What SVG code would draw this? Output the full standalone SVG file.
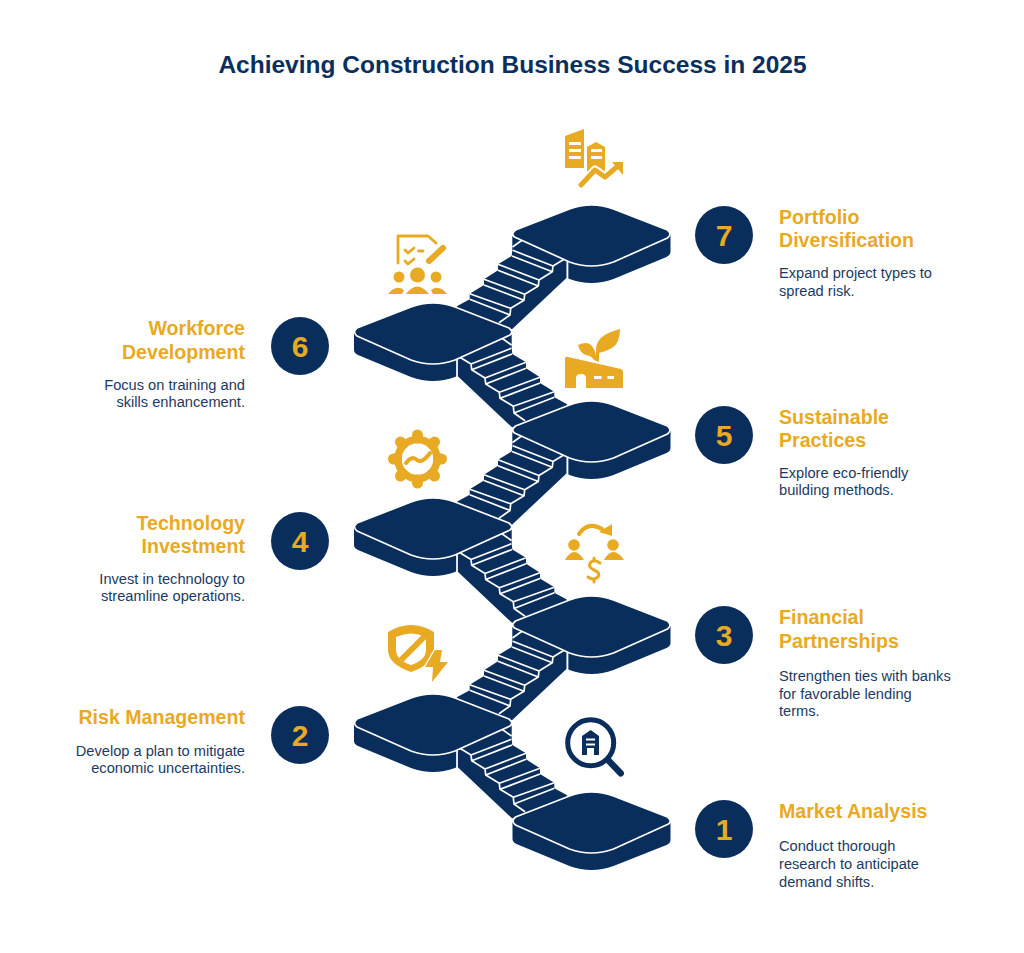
<svg xmlns="http://www.w3.org/2000/svg" width="1024" height="953" viewBox="0 0 1024 953">
<style>
text{font-family:"Liberation Sans",Arial,sans-serif}
.title{font-size:24.5px;font-weight:700;fill:#0b2f5c}
.head{font-size:19.600px;font-weight:700;fill:#e8a923}
.body{font-size:14.650px;fill:#1b3a63}
.num{font-size:30px;font-weight:700;fill:#e8a923;text-anchor:middle}
.end{text-anchor:end}
.navy{fill:#0a2e5c}
.gold{fill:#e8a923}
.wl{fill:none;stroke:#fff;stroke-width:1.700;stroke-linejoin:round}
.top{fill:#0a2e5c;stroke:#fff;stroke-width:1.700;stroke-linejoin:round}
.gl{fill:none;stroke:#e8a923;stroke-linecap:round;stroke-linejoin:round}
.circ{fill:#0a2e5c}
</style>
<defs>
<g id="flight">
<path class="navy" d="M457.3 746.700L511.700 725V739.300L512.300 745L526 753.300V759.300L540 768.300V774L554.300 782.700V788.300L566.700 795L575 810L512 818.300L457.300 766.700Z"/>
<path class="wl" d="M458.300 747.300L471 755L471.700 760.700L485 769L485.700 775L499.300 783.300L500 789.300L513.300 797.300L514 804L525 811.700M471 755L511.300 739.300M471.700 760.700L512 745M485 769L526 753.300M485.700 775L526 759.300M499.300 783.300L540 768.300M500 789.300L540 774M513.300 797.300L554.300 782.700M514 804L554.300 788.300M501.700 729L511.500 736"/>
</g>
<path id="face" class="top" d="M-76-5L-22-26Q0-34 22-26L76-5Q81-1 77 2L22 27Q0 35-22 27L-76 3Q-81-1-76-5Z"/>
<g id="platFull">
<path class="navy" d="M-79 0V17Q-79 20-75 22L-22 44Q0 52 22 44L75 23Q79 21 79 18V0Z"/>
<use href="#face"/>
</g>
<g id="plat">
<path class="navy" d="M-79 0V17Q-79 20-75 22L-22 44Q0 52 22 44L24 43V12L79 0Z"/>
<path class="wl" d="M24 24V44"/>
<use href="#face"/>
</g>
</defs>
<rect width="1024" height="953" fill="#fff"/>
<text class="title" x="512.500" y="73" text-anchor="middle">Achieving Construction Business Success in 2025</text>
<g id="connectors">
<use href="#flight"/>
<use href="#flight" transform="translate(0 -195.500)"/>
<use href="#flight" transform="translate(0 -391)"/>
<use href="#flight" transform="translate(1024 -98) scale(-1 1)"/>
<use href="#flight" transform="translate(1024 -293.500) scale(-1 1)"/>
<use href="#flight" transform="translate(1024 -489) scale(-1 1)"/>
</g>
<g id="node1">
<use href="#platFull" transform="translate(591.500 822)"/>
<circle class="circ" cx="724" cy="829" r="29"/><text class="num" x="724" y="840">1</text>
<text class="head" x="779" y="818">Market Analysis</text>
<text class="body" x="779" y="851">Conduct thorough</text><text class="body" x="779" y="869">research to anticipate</text><text class="body" x="779" y="887">demand shifts.</text>
<g id="icon1"><circle cx="590.700" cy="742.700" r="23" fill="none" stroke="#0a2e5c" stroke-width="5"/><path d="M608 760L620.700 773.300" fill="none" stroke="#0a2e5c" stroke-width="6.500" stroke-linecap="round"/><path class="navy" fill-rule="evenodd" d="M582 755V736L590.700 730L599 736V755H594V748H587V755ZM586 738.500V740.500H595V738.500ZM586 743.500V745.500H595V743.500Z"/></g>
</g>
<g id="node2">
<use href="#plat" transform="translate(433 724)"/>
<circle class="circ" cx="300" cy="735" r="29"/><text class="num" x="300" y="746">2</text>
<text class="head end" x="245" y="724">Risk Management</text>
<text class="body end" x="245" y="756">Develop a plan to mitigate</text><text class="body end" x="245" y="773">economic uncertainties.</text>
<g id="icon2"><path class="gold" d="M388 632Q411 618 434 632V650Q434 664 411 672Q388 664 388 650Z"/><path fill="#fff" d="M396 637Q411 630 426 637V650Q426 660 411 665Q396 660 396 650Z"/><path d="M401 660L429 632" fill="none" stroke="#e8a923" stroke-width="6"/><path class="gold" stroke="#fff" stroke-width="2.500" paint-order="stroke" d="M435 650L425 667H433L432 682L448 662H440L442 650Z"/></g>
</g>
<g id="node3">
<use href="#plat" transform="translate(591.500 626) scale(-1 1)"/>
<circle class="circ" cx="724" cy="635" r="29"/><text class="num" x="724" y="646">3</text>
<text class="head" x="779" y="624">Financial</text><text class="head" x="779" y="648">Partnerships</text>
<text class="body" x="779" y="681">Strengthen ties with banks</text><text class="body" x="779" y="699">for favorable lending</text><text class="body" x="779" y="716">terms.</text>
<g id="icon3"><circle class="gold" cx="574" cy="545" r="5.800"/><circle class="gold" cx="613" cy="545" r="5.800"/><path class="gold" d="M565 560Q574 544 584 560ZM604 560Q613 544 624 560Z"/><path class="gl" stroke-width="4" d="M579 534Q588 521 602 529"/><path class="gold" d="M599 532L612 524V536Z"/><path class="gl" stroke-width="3" d="M600 563Q595 559 591 562Q587 567 594 570Q601 573 598 577Q593 581 588 577M594 558V561M594 580V582"/></g>
</g>
<g id="node4">
<use href="#plat" transform="translate(433 528)"/>
<circle class="circ" cx="300" cy="541" r="29"/><text class="num" x="300" y="552">4</text>
<text class="head end" x="245" y="530">Technology</text><text class="head end" x="245" y="553">Investment</text>
<text class="body end" x="245" y="584">Invest in technology to</text><text class="body end" x="245" y="601">streamline operations.</text>
<g id="icon4"><circle cx="417.500" cy="459" r="19.500" fill="none" stroke="#e8a923" stroke-width="7.500"/><path d="M417.500 438V435M432.500 444L434.500 442M438.500 459H441.500M432.500 474L434.500 476M417.500 480V483M402.500 474L400.500 476M396.500 459H393.500M402.500 444L400.500 442" fill="none" stroke="#e8a923" stroke-width="11" stroke-linecap="round"/><path class="gl" stroke-width="4" d="M406 463Q412 455 417 460Q422 464 430 453"/></g>
</g>
<g id="node5">
<use href="#plat" transform="translate(591.500 431) scale(-1 1)"/>
<circle class="circ" cx="724" cy="435" r="29"/><text class="num" x="724" y="446">5</text>
<text class="head" x="779" y="424">Sustainable</text><text class="head" x="779" y="447">Practices</text>
<text class="body" x="779" y="478">Explore eco-friendly</text><text class="body" x="779" y="495">building methods.</text>
<g id="icon5"><path class="gold" d="M565 359Q565 356 568 357L621 369Q623 370 623 372V388H586V378Q586 374 581 374Q576 374 576 378V388H565Z"/><path fill="#fff" d="M594 376H601.500V379H594ZM607.500 376H614V379H607.500Z"/><path class="gold" d="M578 345Q587 341 591 345Q595 349 596 356V351Q595 335 620 329Q620 343 612 348Q604 352 599 353V362L594 360Q592 356 586 355Q580 353 578 345Z"/></g>
</g>
<g id="node6">
<use href="#plat" transform="translate(433 333)"/>
<circle class="circ" cx="300" cy="346" r="29"/><text class="num" x="300" y="357">6</text>
<text class="head end" x="245" y="335">Workforce</text><text class="head end" x="245" y="359">Development</text>
<text class="body end" x="245" y="390">Focus on training and</text><text class="body end" x="245" y="407">skills enhancement.</text>
<g id="icon6"><path class="gl" stroke-width="2.800" d="M398 263V236H428L436 243M405 250L408 253L414 248M418.500 251H423M405 261L408 264L414 259"/><path class="gl" stroke-width="6" d="M429 261L443 248"/><circle class="gold" cx="417.500" cy="275" r="7.500"/><circle class="gold" cx="399" cy="277" r="5.500"/><circle class="gold" cx="436" cy="277" r="5.500"/><path class="gold" d="M406 294Q417 279 429 294ZM388 294Q396 284 404 290L402 294ZM433 294L431 290Q439 284 447 294Z"/></g>
</g>
<g id="node7">
<use href="#plat" transform="translate(591.500 235) scale(-1 1)"/>
<circle class="circ" cx="724" cy="235" r="29"/><text class="num" x="724" y="246">7</text>
<text class="head" x="779" y="224">Portfolio</text><text class="head" x="779" y="247">Diversification</text>
<text class="body" x="779" y="278">Expand project types to</text><text class="body" x="779" y="296">spread risk.</text>
<g id="icon7"><path class="gold" d="M565 136L584 129V168H565Z"/><path class="gold" d="M587 147L596 142L605 147V172H587Z"/><path fill="#fff" d="M569 142H581V145H569ZM569 149H581V152H569ZM569 156H581V159H569ZM591 149H602V152H591ZM591 156H602V159H591Z"/><path fill="none" stroke="#fff" stroke-width="9" stroke-linejoin="round" d="M581 185L595 170L605 177L618 165"/><path class="gl" stroke-width="5" d="M581 185L595 170L605 177L618 166"/><path class="gold" d="M612 162H623V175Z"/></g>
</g>
</svg>
